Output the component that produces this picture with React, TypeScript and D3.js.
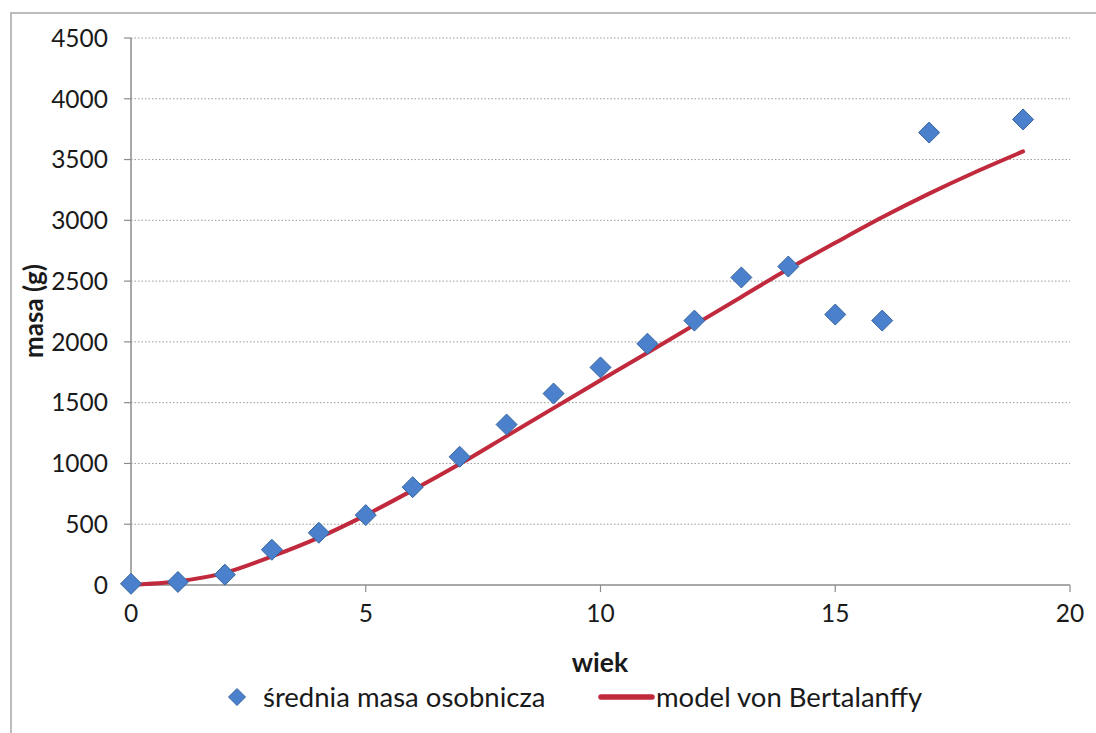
import React from "react";
import * as d3 from "d3";

const ages = [0, 1, 2, 3, 4, 5, 6, 7, 8, 9, 10, 11, 12, 13, 14, 15, 16, 17, 19];
const meanMass = [10, 25, 85, 290, 430, 575, 805, 1055, 1320, 1575, 1790, 1985, 2175, 2530, 2620, 2225, 2175, 3722, 3830];

const modelAges = [0, 1, 2, 3, 4, 5, 6, 7, 8, 9, 10, 11, 12, 13, 14, 15, 16, 17, 18, 19];
const modelMass = [0, 30, 100, 235, 390, 575, 780, 995, 1225, 1455, 1685, 1910, 2140, 2370, 2600, 2815, 3025, 3220, 3400, 3567];

const yTicks = [0, 500, 1000, 1500, 2000, 2500, 3000, 3500, 4000, 4500];
const xTicks = [0, 5, 10, 15, 20];

const seriesLabels = ["średnia masa osobnicza", "model von Bertalanffy"];
const axisTitles = { x: "wiek", y: "masa (g)" };

const FONT = "Lato, 'Open Sans', sans-serif";
const BLUE = "#4a80cc";
const BLUE_DARK = "#38659f";
const RED = "#c02a3c";

export default function App() {
  const W = 1096, H = 733;
  const left = 131, right = 1070, top = 38, bottom = 585;
  const x = d3.scaleLinear().domain([0, 20]).range([left, right]);
  const y = d3.scaleLinear().domain([0, 4500]).range([bottom, top]);

  const line = d3
    .line<number>()
    .x((_, i) => x(modelAges[i]))
    .y((d) => y(d))
    .curve(d3.curveCatmullRom.alpha(0.5));

  const diamond = (cx: number, cy: number, r: number) =>
    `M${cx},${cy - r}L${cx + r},${cy}L${cx},${cy + r}L${cx - r},${cy}Z`;

  return (
    <svg width={W} height={H} style={{ position: "absolute", left: 0, top: 0, background: "#fff" }}>
      <rect x={0} y={0} width={W} height={H} fill="#fff" />
      <rect x={11} y={13} width={W + 20} height={H + 20} fill="none" stroke="#a6a6a6" strokeWidth={1.5} />
      {/* gridlines */}
      {yTicks.slice(1).map((t) => (
        <line key={"g" + t} x1={left} x2={right} y1={y(t)} y2={y(t)} stroke="#9a9a9a" strokeWidth={1} strokeDasharray="1.5,2" />
      ))}
      {/* axes */}
      <line x1={left} x2={left} y1={top} y2={bottom} stroke="#8c8c8c" strokeWidth={1.5} />
      <line x1={left} x2={right} y1={bottom} y2={bottom} stroke="#8c8c8c" strokeWidth={1.5} />
      {yTicks.map((t) => (
        <g key={"yt" + t}>
          <line x1={left - 7} x2={left} y1={y(t)} y2={y(t)} stroke="#8c8c8c" strokeWidth={1.2} />
          <text x={left - 23} y={y(t)} dy="0.36em" textAnchor="end" fontFamily={FONT} fontSize={24.5} fill="#1a1a1a">
            {t}
          </text>
        </g>
      ))}
      {xTicks.map((t) => (
        <g key={"xt" + t}>
          <line x1={x(t)} x2={x(t)} y1={bottom} y2={bottom + 7} stroke="#8c8c8c" strokeWidth={1.2} />
          <text x={x(t)} y={bottom + 37} textAnchor="middle" fontFamily={FONT} fontSize={24.5} fill="#1a1a1a">
            {t}
          </text>
        </g>
      ))}
      {/* axis titles */}
      <text x={600} y={672} textAnchor="middle" fontFamily={FONT} fontSize={26.5} fontWeight="bold" fill="#1a1a1a">
        {axisTitles.x}
      </text>
      <text
        transform={`translate(43,${311}) rotate(-90)`}
        textAnchor="middle"
        fontFamily={FONT}
        fontSize={26}
        fontWeight="bold"
        fill="#1a1a1a"
      >
        {axisTitles.y}
      </text>
      {/* model line */}
      <path d={line(modelMass) || ""} fill="none" stroke={RED} strokeWidth={4} strokeLinecap="round" />
      {/* points */}
      {meanMass.map((v, i) => (
        <path key={"p" + i} d={diamond(x(ages[i]), y(v), 10.5)} fill={BLUE} stroke={BLUE_DARK} strokeWidth={1} />
      ))}
      {/* legend */}
      <path d={diamond(237, 697, 8.5)} fill={BLUE} stroke={BLUE_DARK} strokeWidth={1} />
      <text x={263} y={697} dy="0.35em" fontFamily={FONT} fontSize={27.5} fill="#1a1a1a">
        {seriesLabels[0]}
      </text>
      <line x1={601} x2={652} y1={697} y2={697} stroke={RED} strokeWidth={5.5} strokeLinecap="round" />
      <text x={656} y={697} dy="0.35em" fontFamily={FONT} fontSize={27.5} fill="#1a1a1a">
        {seriesLabels[1]}
      </text>
    </svg>
  );
}
